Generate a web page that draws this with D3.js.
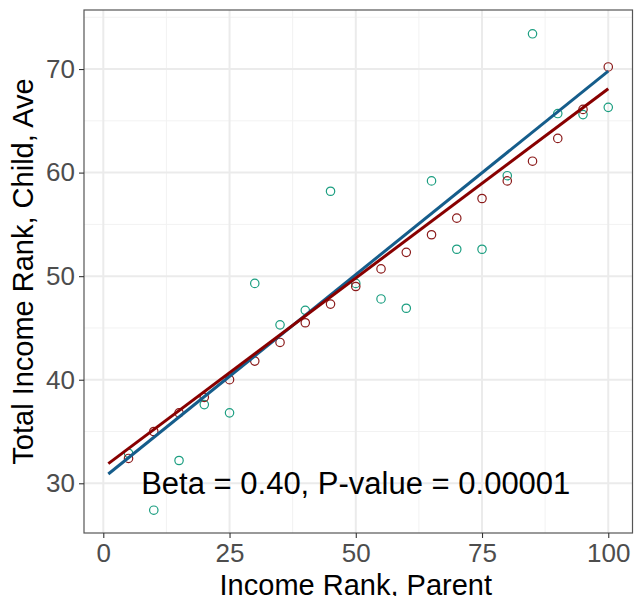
<!DOCTYPE html>
<html>
<head>
<meta charset="utf-8">
<script src="https://cdn.jsdelivr.net/npm/d3@7"></script>
<style>
  body { margin: 0; background: #fff; }
  svg { font-family: "Liberation Sans", Arial, sans-serif; }
</style>
</head>
<body>
<svg id="chart" width="634" height="596"></svg>
<script>
// parent income rank (x)
const parentRank = [5, 10, 15, 20, 25, 30, 35, 40, 45, 50, 55, 60, 65, 70, 75, 80, 85, 90, 95, 100];
// child rank, teal series
const childTeal = [32.9, 27.4, 32.2, 37.6, 36.8, 49.3, 45.3, 46.7, 58.2, 49.3, 47.8, 46.9, 59.2, 52.6, 52.6, 59.7, 73.4, 65.7, 65.6, 66.3];
// child rank, red series
const childRed = [32.4, 35.0, 36.8, 38.3, 40.0, 41.8, 43.6, 45.5, 47.3, 49.0, 50.7, 52.3, 54.0, 55.6, 57.5, 59.2, 61.1, 63.3, 66.1, 70.2];
// fitted lines (ends)
const fitX = [1, 100];
const fitBlue = [30.9, 69.8];
const fitRed = [31.9, 68.1];

const xTicks = [0, 25, 50, 75, 100];
const yTicks = [30, 40, 50, 60, 70];
const xMinor = [12.5, 37.5, 62.5, 87.5];
const yMinor = [25, 35, 45, 55, 65, 75];
const label = "Beta = 0.40, P-value = 0.00001";

const svg = d3.select("#chart");
const pLeft = 84, pRight = 632.5, pTop = 10, pBottom = 533;

const x = d3.scaleLinear().domain([-3.82, 104.8]).range([pLeft, pRight]);
const y = d3.scaleLinear().domain([25.2, 75.7]).range([pBottom, pTop]);

// grid
const g = svg.append("g");
g.selectAll(".minx").data(xMinor).enter().append("line")
  .attr("x1", d => x(d)).attr("x2", d => x(d)).attr("y1", pTop).attr("y2", pBottom)
  .attr("stroke", "#f2f2f2").attr("stroke-width", 1);
g.selectAll(".miny").data(yMinor.filter(d => y(d) > pTop && y(d) < pBottom)).enter().append("line")
  .attr("x1", pLeft).attr("x2", pRight).attr("y1", d => y(d)).attr("y2", d => y(d))
  .attr("stroke", "#f2f2f2").attr("stroke-width", 1);
g.selectAll(".majx").data(xTicks).enter().append("line")
  .attr("x1", d => x(d)).attr("x2", d => x(d)).attr("y1", pTop).attr("y2", pBottom)
  .attr("stroke", "#ebebeb").attr("stroke-width", 2);
g.selectAll(".majy").data(yTicks).enter().append("line")
  .attr("x1", pLeft).attr("x2", pRight).attr("y1", d => y(d)).attr("y2", d => y(d))
  .attr("stroke", "#ebebeb").attr("stroke-width", 2);

// points
const pts = svg.append("g");
pts.selectAll(".teal").data(parentRank).enter().append("circle")
  .attr("cx", d => x(d)).attr("cy", (d, i) => y(childTeal[i])).attr("r", 4.2)
  .attr("fill", "none").attr("stroke", "#1b9e80").attr("stroke-width", 1.2);
pts.selectAll(".red").data(parentRank).enter().append("circle")
  .attr("cx", d => x(d)).attr("cy", (d, i) => y(childRed[i])).attr("r", 4.2)
  .attr("fill", "none").attr("stroke", "#8b1a1a").attr("stroke-width", 1.2);

// fit lines
const line = d3.line().x(d => x(d[0])).y(d => y(d[1]));
svg.append("path").datum(fitX.map((v, i) => [v, fitBlue[i]]))
  .attr("d", line).attr("fill", "none").attr("stroke", "#155d8b").attr("stroke-width", 3);
svg.append("path").datum(fitX.map((v, i) => [v, fitRed[i]]))
  .attr("d", line).attr("fill", "none").attr("stroke", "#880000").attr("stroke-width", 3);

// annotation
svg.append("text").attr("x", x(50)).attr("y", y(30)).attr("dy", "0.35em")
  .attr("text-anchor", "middle").attr("font-size", 31).attr("fill", "#000").text(label);

// border
svg.append("rect").attr("x", pLeft).attr("y", pTop).attr("width", pRight - pLeft).attr("height", pBottom - pTop)
  .attr("fill", "none").attr("stroke", "#555").attr("stroke-width", 1.2);

// axes
const xAxis = svg.append("g").attr("transform", `translate(0,${pBottom})`)
  .call(d3.axisBottom(x).tickValues(xTicks).tickSize(5).tickPadding(6));
const yAxis = svg.append("g").attr("transform", `translate(${pLeft},0)`)
  .call(d3.axisLeft(y).tickValues(yTicks).tickSize(5).tickPadding(4));
[xAxis, yAxis].forEach(a => {
  a.select(".domain").remove();
  a.selectAll(".tick line").attr("stroke", "#333").attr("stroke-width", 1.1);
  a.selectAll("text").attr("fill", "#4d4d4d").attr("font-size", 26)
    .attr("font-family", "'Liberation Sans', Arial, sans-serif");
});

// axis titles
svg.append("text").attr("x", x(50)).attr("y", 595)
  .attr("text-anchor", "middle").attr("font-size", 29).attr("fill", "#000")
  .text("Income Rank, Parent");
svg.append("text").attr("transform", `translate(33,${(pTop + pBottom) / 2}) rotate(-90)`)
  .attr("text-anchor", "middle").attr("font-size", 29).attr("fill", "#000")
  .text("Total Income Rank, Child, Ave");
</script>
</body>
</html>
